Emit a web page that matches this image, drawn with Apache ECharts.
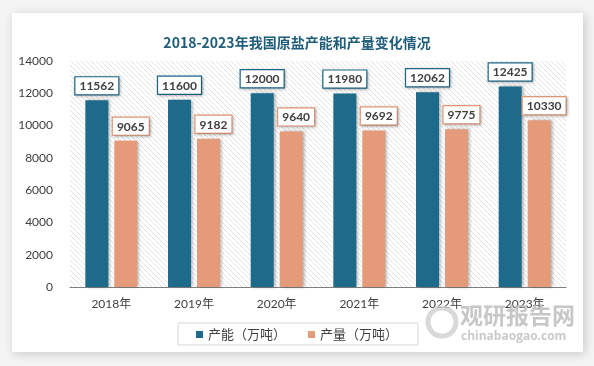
<!DOCTYPE html>
<html><head><meta charset="utf-8">
<script src="https://cdn.jsdelivr.net/npm/echarts@6/dist/echarts.min.js"></script>
<style>html,body{margin:0;padding:0;background:#f4f4f4;}#c{width:594px;height:366px;}</style>
</head><body><div id="c"></div>
<script>
const categories = ['2018年','2019年','2020年','2021年','2022年','2023年'];
const capacity = [11562, 11600, 12000, 11980, 12062, 12425];
const output = [9065, 9182, 9640, 9692, 9775, 10330];
const seriesNames = ['产能（万吨）','产量（万吨）'];
const titleText = '2018-2023年我国原盐产能和产量变化情况';

const pc = document.createElement('canvas');
pc.width = 5; pc.height = 5;
const g = pc.getContext('2d');
g.fillStyle = '#ffffff'; g.fillRect(0,0,5,5);
g.strokeStyle = '#e2e2e2'; g.lineWidth = 1;
g.beginPath();
for (let k = -5; k <= 10; k += 5) { g.moveTo(k, 0); g.lineTo(k + 5, 5); }
g.stroke();

const chart = echarts.init(document.getElementById('c'));
const font = 'Lato, "Noto Sans CJK SC", sans-serif';
const lbl = (color, dx) => ({
  show: true, position: 'top', distance: 6, offset: [dx, 0],
  color: '#404040', fontWeight: 'bold', fontSize: 12, fontFamily: font,
  backgroundColor: '#fff', borderColor: color, borderWidth: 1.2,
  padding: [3, 4, 2, 4],
  shadowColor: 'rgba(0,0,0,0.25)', shadowBlur: 3, shadowOffsetX: 1, shadowOffsetY: 1
});
chart.setOption({
  backgroundColor: 'transparent',
  graphic: [
    { type: 'rect', z: -10, shape: { x: 12, y: 13, width: 571, height: 339 },
      style: { fill: '#fff', shadowBlur: 10, shadowColor: 'rgba(0,0,0,0.18)', shadowOffsetX: 2, shadowOffsetY: 2 } },
    { type: 'text', z: 5, left: 460, top: 304,
      style: { text: '观研报告网', fill: '#bdbdbd', font: 'bold 23px "Noto Sans CJK SC"', opacity: 0.85 } },
    { type: 'text', z: 5, left: 461, top: 331,
      style: { text: 'chinabaogao.com', fill: '#c4c4c4', font: 'bold 12px "Open Sans"', opacity: 0.9 } },
    { type: 'circle', z: 5, shape: { cx: 442, cy: 322, r: 14 },
      style: { fill: 'none', stroke: '#d0d0d0', lineWidth: 5, opacity: 0.8 } }
  ],
  title: {
    text: titleText, left: 'center', top: 31,
    textStyle: { color: '#1f5d7a', fontSize: 14, fontWeight: 'bold', fontFamily: '"Noto Sans CJK SC"' }
  },
  grid: { left: 70, right: 28, top: 61, bottom: 79, show: true, borderWidth: 0,
    backgroundColor: { image: pc, repeat: 'repeat' } },
  legend: {
    data: seriesNames, bottom: 21, left: 'center',
    itemWidth: 7, itemHeight: 7, itemGap: 22, icon: 'rect',
    borderColor: '#d9d9d9', borderWidth: 1, padding: [5, 20, 4, 18], borderRadius: 0,
    textStyle: { color: '#404040', fontSize: 13, fontFamily: '"Noto Sans CJK SC"' }
  },
  xAxis: {
    type: 'category', data: categories,
    axisLine: { lineStyle: { color: '#7f7f7f' } },
    axisTick: { show: false },
    axisLabel: { color: '#404040', fontSize: 12, fontFamily: font, margin: 11 }
  },
  yAxis: {
    type: 'value', min: 0, max: 14000, interval: 2000,
    splitLine: { show: false }, axisLine: { show: false }, axisTick: { show: false },
    axisLabel: { color: '#404040', fontSize: 12, fontFamily: font, margin: 17, formatter: v => String(v) }
  },
  series: [
    { name: seriesNames[0], type: 'bar', data: capacity, barWidth: 23, barGap: '26%',
      itemStyle: { color: '#1d6a8b', shadowColor: 'rgba(0,0,0,0.3)', shadowBlur: 3, shadowOffsetX: 2 },
      label: lbl('#1d6a8b', 0) },
    { name: seriesNames[1], type: 'bar', data: output, barWidth: 23,
      itemStyle: { color: '#e59a7a', shadowColor: 'rgba(0,0,0,0.3)', shadowBlur: 3, shadowOffsetX: 2 },
      label: lbl('#e59a7a', 5) }
  ]
});
</script></body></html>
